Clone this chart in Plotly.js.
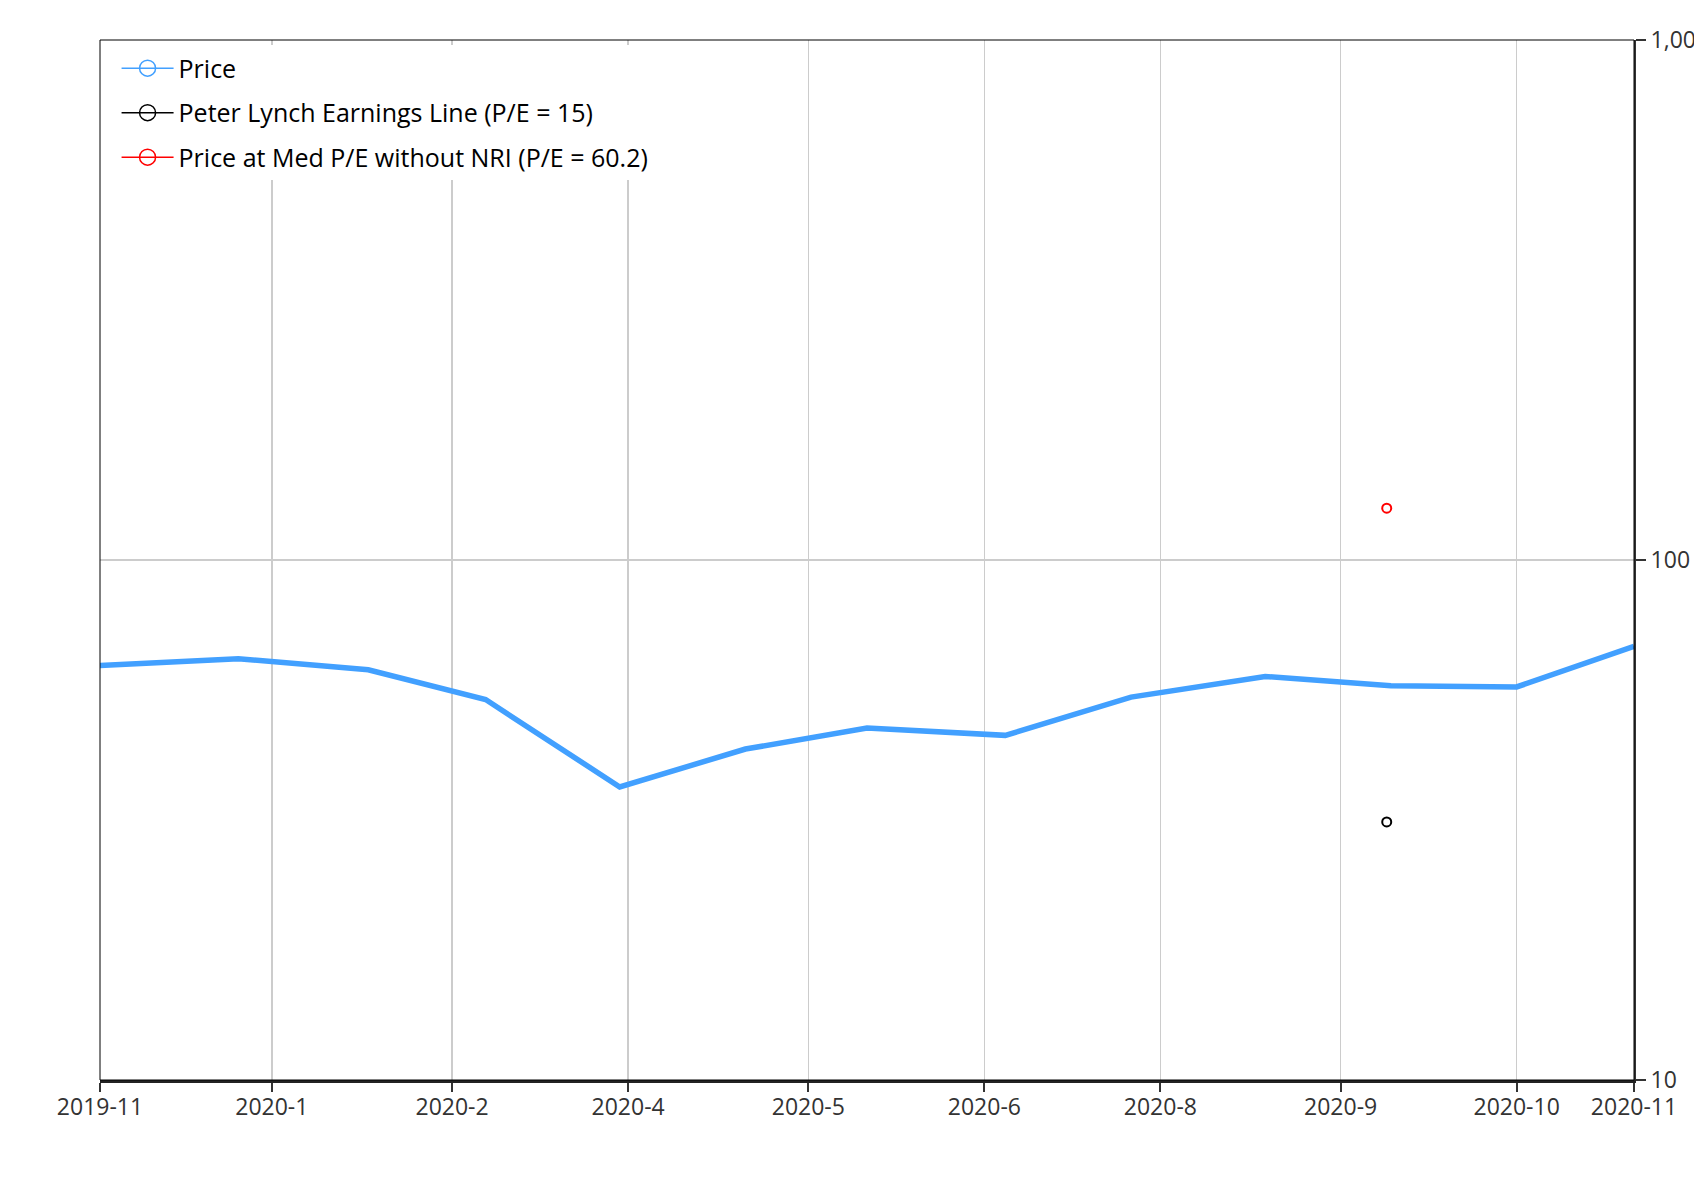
<!DOCTYPE html>
<html>
<head>
<meta charset="utf-8">
<script src="https://cdn.plot.ly/plotly-3.0.1.min.js"></script>
<style>
  html, body { margin: 0; padding: 0; background: #fff; }
  #chart { width: 1694px; height: 1200px; }
</style>
</head>
<body>
<div id="chart"></div>
<script>
// ---- data ----
const priceDates = ['2019-11-28', '2019-12-31', '2020-01-31', '2020-02-28', '2020-03-31', '2020-04-30',
                    '2020-05-29', '2020-07-01', '2020-07-31', '2020-09-01', '2020-10-01', '2020-10-31', '2020-11-28'];
const priceValues = [62.7, 64.6, 61.5, 53.9, 36.6, 43.3, 47.5, 46.0, 54.5, 59.7, 57.3, 57.0, 68.2];

const lynchDates = ['2020-09-30'];
const lynchValues = [31.35];

const medPeDates = ['2020-09-30'];
const medPeValues = [125.8];

const xTickVals = ['2019-11-28', '2020-01-08', '2020-02-20', '2020-04-02', '2020-05-15', '2020-06-26',
                   '2020-08-07', '2020-09-19', '2020-10-31', '2020-11-28'];
const xTickText = ['2019-11', '2020-1', '2020-2', '2020-4', '2020-5', '2020-6', '2020-8', '2020-9', '2020-10', '2020-11'];
const xRange = ['2019-11-28', '2020-11-28'];

const yTickVals = [10, 100, 1000];
const yTickText = ['10', '100', '1,000'];

const seriesNames = ['Price', 'Peter Lynch Earnings Line (P/E = 15)', 'Price at Med P/E without NRI (P/E = 60.2)'];
const seriesColors = ['#42a0ff', '#000000', '#ff0000'];

// ---- traces ----
const traces = [
  {
    x: priceDates, y: priceValues, type: 'scatter', mode: 'lines',
    line: {color: seriesColors[0], width: 5.5}, showlegend: false, hoverinfo: 'x+y'
  },
  {
    x: lynchDates, y: lynchValues, type: 'scatter', mode: 'markers',
    marker: {symbol: 'circle-open', size: 9, color: seriesColors[1], line: {width: 2}}, showlegend: false
  },
  {
    x: medPeDates, y: medPeValues, type: 'scatter', mode: 'markers',
    marker: {symbol: 'circle-open', size: 9, color: seriesColors[2], line: {width: 2}}, showlegend: false
  }
];
// legend entries (line + open circle, as in the reference legend)
seriesNames.forEach((name, i) => {
  traces.push({
    x: [null], y: [null], type: 'scatter', mode: 'lines+markers', name: name,
    legendgroup: 'g' + i,
    line: {color: seriesColors[i], width: 1.5},
    marker: {symbol: 'circle-open', size: 16, color: seriesColors[i], line: {width: 1.5}},
    hoverinfo: 'skip'
  });
});

const layout = {
  width: 1694, height: 1200,
  margin: {l: 100, r: 60, t: 40, b: 120, pad: 0},
  paper_bgcolor: '#ffffff', plot_bgcolor: '#ffffff',
  font: {family: 'Open Sans, Noto Sans, sans-serif', size: 23, color: '#333333'},
  showlegend: true,
  legend: {
    x: 0.0108, y: 0.9948, xanchor: 'left', yanchor: 'top',
    bgcolor: '#ffffff', borderwidth: 0,
    font: {family: 'Open Sans, Noto Sans, sans-serif', size: 25, color: '#000000'},
    traceorder: 'grouped', tracegroupgap: 9, itemwidth: 52
  },
  xaxis: {
    type: 'date', range: xRange,
    tickmode: 'array', tickvals: xTickVals, ticktext: xTickText,
    showgrid: true, gridcolor: '#cccccc', gridwidth: 1.5,
    showline: true, linecolor: '#222222', linewidth: 2.5,
    ticks: 'outside', ticklen: 9, tickwidth: 2, tickcolor: '#333333',
    ticklabelstandoff: -4,
    tickfont: {size: 23, color: '#333333'},
    zeroline: false, fixedrange: true
  },
  yaxis: {
    type: 'log', range: [1, 3], side: 'right',
    tickmode: 'array', tickvals: yTickVals, ticktext: yTickText,
    showgrid: true, gridcolor: '#cccccc', gridwidth: 1.5,
    showline: true, linecolor: '#333333', linewidth: 2,
    ticks: 'outside', ticklen: 10, tickwidth: 2, tickcolor: '#333333',
    tickfont: {size: 23, color: '#333333'},
    zeroline: false, fixedrange: true
  },
  shapes: [
    {type: 'rect', xref: 'paper', yref: 'paper', x0: 0, x1: 1, y0: 0, y1: 1,
     line: {color: '#000000', width: 1}, fillcolor: 'rgba(0,0,0,0)', layer: 'above'}
  ]
};

Plotly.newPlot('chart', traces, layout, {displayModeBar: false, staticPlot: true});
</script>
</body>
</html>
